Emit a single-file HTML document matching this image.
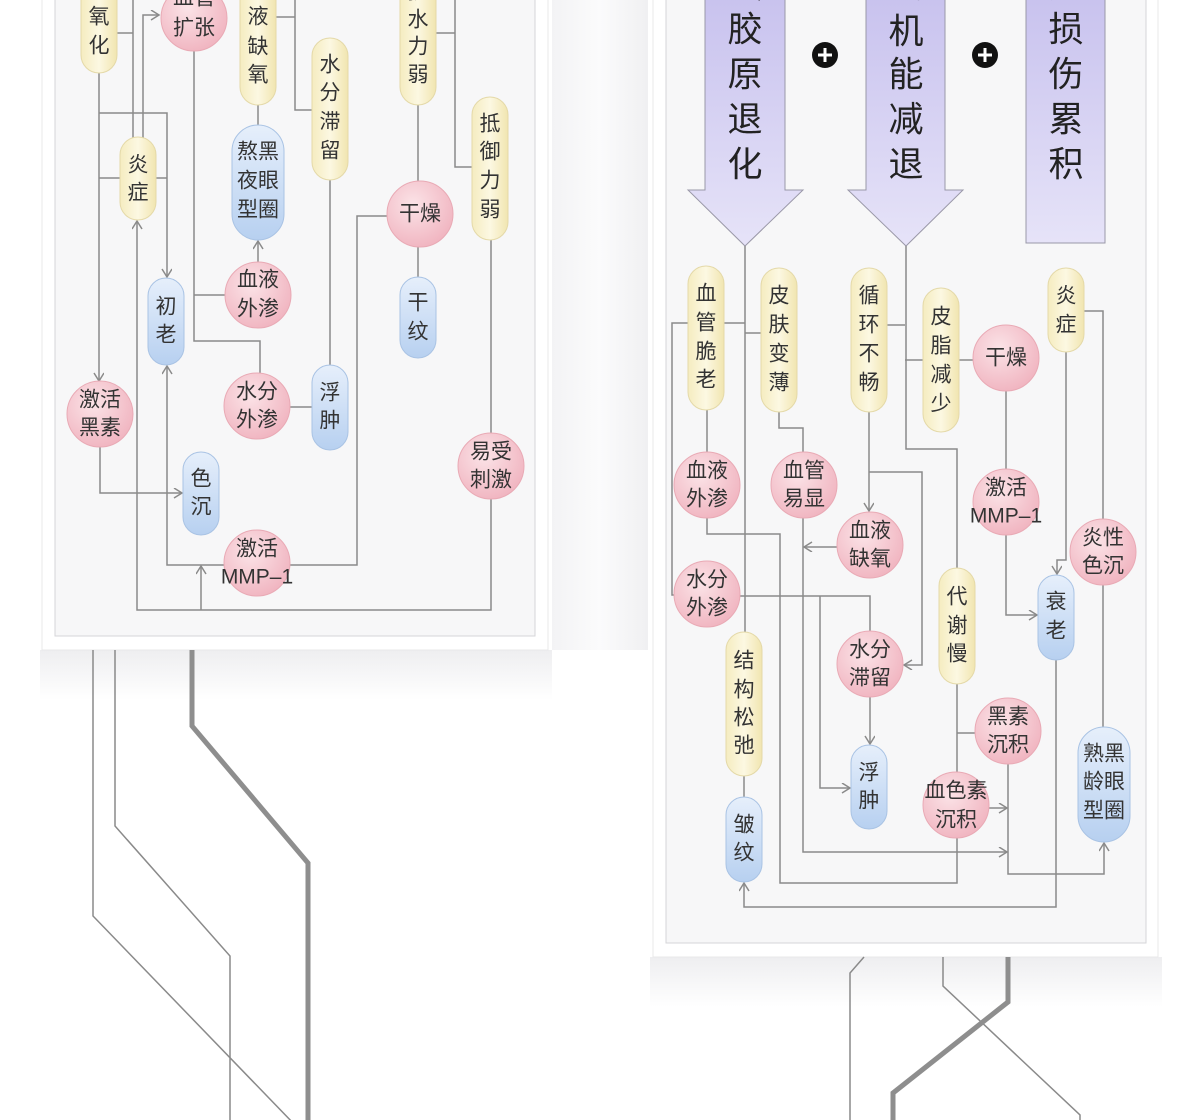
<!DOCTYPE html>
<html><head><meta charset="utf-8"><style>
html,body{margin:0;padding:0;background:#fff;}
svg{display:block;}
text{font-family:"Liberation Sans","Noto Sans CJK SC",sans-serif;font-size:21px;fill:#333;text-anchor:middle;dominant-baseline:central;}
.ln{stroke:#8a8a8a;stroke-width:1.5;fill:none;}
.big{font-size:35px;fill:#222;}
</style></head><body>
<svg width="1200" height="1120" viewBox="0 0 1200 1120" xmlns="http://www.w3.org/2000/svg">
<defs>
<radialGradient id="pk" cx="0.4" cy="0.35" r="0.7"><stop offset="0" stop-color="#fbe3e7"/><stop offset="1" stop-color="#f0b3bf"/></radialGradient>
<linearGradient id="yl" x1="0" y1="0" x2="1" y2="0"><stop offset="0" stop-color="#f5ecc0"/><stop offset="0.5" stop-color="#fcf8e2"/><stop offset="1" stop-color="#f1e5b0"/></linearGradient>
<linearGradient id="bl" x1="0" y1="0" x2="0" y2="1"><stop offset="0" stop-color="#e6effb"/><stop offset="1" stop-color="#b7d0f0"/></linearGradient>
<linearGradient id="pu" x1="0" y1="0" x2="0" y2="1"><stop offset="0" stop-color="#c8c2ee"/><stop offset="1" stop-color="#e6e3f8"/></linearGradient>
<linearGradient id="gap" x1="0" y1="0" x2="1" y2="0"><stop offset="0" stop-color="#f3f3f5"/><stop offset="0.5" stop-color="#fbfbfc"/><stop offset="1" stop-color="#f0f0f2"/></linearGradient>
<linearGradient id="sh" x1="0" y1="0" x2="0" y2="1"><stop offset="0" stop-color="#eeeef0"/><stop offset="1" stop-color="#ffffff"/></linearGradient>
<marker id="ar" markerWidth="12" markerHeight="12" refX="9" refY="5" orient="auto" markerUnits="userSpaceOnUse"><path d="M1,0 L9,5 L1,10" fill="none" stroke="#8a8a8a" stroke-width="1.5"/></marker>
</defs>

<rect x="552" y="0" width="96" height="650" fill="url(#gap)"/>
<rect x="40" y="650" width="512" height="50" fill="url(#sh)"/>
<rect x="650" y="957" width="512" height="50" fill="url(#sh)"/>
<rect x="42" y="-5" width="506" height="655" fill="#fff" stroke="#e8e8ea"/>
<rect x="55" y="-5" width="480" height="641" fill="#f7f7f8" stroke="#d6d6d8"/>
<rect x="653" y="-5" width="505" height="962" fill="#fff" stroke="#e8e8ea"/>
<rect x="666" y="-5" width="480" height="948" fill="#f7f7f8" stroke="#d6d6d8"/>

<polyline class="ln" points="93,650 93,916 295,1125" stroke="#777"/>
<polyline class="ln" points="115,650 115,826 230,956 230,1120" stroke="#777"/>
<polyline points="192,650 192,726 308,863 308,1120" fill="none" stroke="#8e8e8e" stroke-width="5"/>
<polyline class="ln" points="864,957 850,973 850,1120" stroke="#777"/>
<polyline class="ln" points="943,957 943,986 1080,1115 1080,1120" stroke="#777"/>
<polyline points="1008,957 1008,1002 893,1093 893,1120" fill="none" stroke="#8e8e8e" stroke-width="5"/>

<polyline class="ln" points="99,70 99,381" marker-end="url(#ar)"/>
<polyline class="ln" points="117,33 133,33"/>
<polyline class="ln" points="133,0 133,140"/>
<polyline class="ln" points="99,113 167,113 167,277" marker-end="url(#ar)"/>
<polyline class="ln" points="99,178 167,178"/>
<polyline class="ln" points="143,140 143,15 159,15" marker-end="url(#ar)"/>
<polyline class="ln" points="194,50 194,341 260,341 260,373"/>
<polyline class="ln" points="194,295 225,295"/>
<polyline class="ln" points="276,17 295,17"/>
<polyline class="ln" points="295,0 295,110 312,110"/>
<polyline class="ln" points="258,100 258,125"/>
<polyline class="ln" points="258,262 258,241" marker-end="url(#ar)"/>
<polyline class="ln" points="436,33 455,33"/>
<polyline class="ln" points="455,0 455,167 472,167"/>
<polyline class="ln" points="418,100 418,181"/>
<polyline class="ln" points="418,247 418,277"/>
<polyline class="ln" points="387,216 357,216 357,565 290,565"/>
<polyline class="ln" points="330,178 330,365"/>
<polyline class="ln" points="290,407 312,407"/>
<polyline class="ln" points="491,238 491,433"/>
<polyline class="ln" points="491,499 491,610 137,610 137,221" marker-end="url(#ar)"/>
<polyline class="ln" points="201,610 201,566" marker-end="url(#ar)"/>
<polyline class="ln" points="224,565 167,565 167,366" marker-end="url(#ar)"/>
<polyline class="ln" points="100,447 100,493 182,493" marker-end="url(#ar)"/>

<rect x="81" y="-20" width="36" height="93" rx="18" fill="url(#yl)" stroke="#e4d9a8"/>
<text x="99" y="17">氧</text><text x="99" y="46">化</text>
<circle cx="194" cy="18" r="33" fill="url(#pk)" stroke="#e9aab5"/>
<text x="194" y="-2">血管</text><text x="194" y="28">扩张</text>
<rect x="240" y="-20" width="36" height="125" rx="18" fill="url(#yl)" stroke="#e4d9a8"/>
<text x="258" y="17">液</text><text x="258" y="47">缺</text><text x="258" y="75">氧</text>
<rect x="312" y="38" width="36" height="142" rx="18" fill="url(#yl)" stroke="#e4d9a8"/>
<text x="330" y="65">水</text><text x="330" y="93">分</text><text x="330" y="122">滞</text><text x="330" y="151">留</text>
<rect x="400" y="-20" width="36" height="125" rx="18" fill="url(#yl)" stroke="#e4d9a8"/>
<text x="418" y="-8">抗</text><text x="418" y="20">水</text><text x="418" y="47">力</text><text x="418" y="75">弱</text>
<rect x="472" y="97" width="36" height="143" rx="18" fill="url(#yl)" stroke="#e4d9a8"/>
<text x="490" y="124">抵</text><text x="490" y="152">御</text><text x="490" y="181">力</text><text x="490" y="210">弱</text>
<rect x="120" y="137" width="36" height="83" rx="18" fill="url(#yl)" stroke="#e4d9a8"/>
<text x="138" y="165">炎</text><text x="138" y="193">症</text>
<rect x="232" y="125" width="52" height="115" rx="26" fill="url(#bl)" stroke="#a9c3e4"/>
<text x="258" y="152">熬黑</text><text x="258" y="181">夜眼</text><text x="258" y="210">型圈</text>
<circle cx="420" cy="214" r="33" fill="url(#pk)" stroke="#e9aab5"/><text x="420" y="214">干燥</text>
<circle cx="258" cy="295" r="33" fill="url(#pk)" stroke="#e9aab5"/>
<text x="258" y="280">血液</text><text x="258" y="309">外渗</text>
<rect x="148" y="278" width="36" height="87" rx="18" fill="url(#bl)" stroke="#a9c3e4"/>
<text x="166" y="307">初</text><text x="166" y="335">老</text>
<rect x="400" y="277" width="36" height="81" rx="18" fill="url(#bl)" stroke="#a9c3e4"/>
<text x="418" y="303">干</text><text x="418" y="332">纹</text>
<circle cx="100" cy="414" r="33" fill="url(#pk)" stroke="#e9aab5"/>
<text x="100" y="400">激活</text><text x="100" y="428">黑素</text>
<circle cx="257" cy="406" r="33" fill="url(#pk)" stroke="#e9aab5"/>
<text x="257" y="392">水分</text><text x="257" y="420">外渗</text>
<rect x="312" y="365" width="36" height="85" rx="18" fill="url(#bl)" stroke="#a9c3e4"/>
<text x="330" y="393">浮</text><text x="330" y="421">肿</text>
<circle cx="491" cy="466" r="33" fill="url(#pk)" stroke="#e9aab5"/>
<text x="491" y="452">易受</text><text x="491" y="480">刺激</text>
<rect x="183" y="452" width="36" height="83" rx="18" fill="url(#bl)" stroke="#a9c3e4"/>
<text x="201" y="479">色</text><text x="201" y="507">沉</text>
<circle cx="257" cy="563" r="33" fill="url(#pk)" stroke="#e9aab5"/>
<text x="257" y="549">激活</text><text x="257" y="577">MMP–1</text>

<polygon points="705,-5 785,-5 785,190 803,190 745,246 688,190 705,190" fill="url(#pu)" stroke="#9a98a8" stroke-width="1"/>
<text class="big" x="745" y="-14">蛋</text><text class="big" x="745" y="30">胶</text><text class="big" x="745" y="75">原</text><text class="big" x="745" y="120">退</text><text class="big" x="745" y="165">化</text>
<polygon points="866,-5 945,-5 945,190 963,190 906,246 848,190 866,190" fill="url(#pu)" stroke="#9a98a8" stroke-width="1"/>
<text class="big" x="906" y="-14">代</text><text class="big" x="906" y="32">机</text><text class="big" x="906" y="75">能</text><text class="big" x="906" y="120">减</text><text class="big" x="906" y="165">退</text>
<rect x="1026" y="-5" width="79" height="248" fill="url(#pu)" stroke="#9a98a8" stroke-width="1"/>
<text class="big" x="1066" y="-14">光</text><text class="big" x="1066" y="30">损</text><text class="big" x="1066" y="75">伤</text><text class="big" x="1066" y="120">累</text><text class="big" x="1066" y="165">积</text>
<circle cx="825" cy="55" r="13" fill="#111"/><path d="M818,55 H832 M825,48 V62" stroke="#fff" stroke-width="3"/>
<circle cx="985" cy="55" r="13" fill="#111"/><path d="M978,55 H992 M985,48 V62" stroke="#fff" stroke-width="3"/>

<polyline class="ln" points="745,246 745,632"/>
<polyline class="ln" points="724,323 745,323"/>
<polyline class="ln" points="745,333 762,333"/>
<polyline class="ln" points="688,323 672,323 672,595 676,595"/>
<polyline class="ln" points="744,776 744,797"/>
<polyline class="ln" points="707,408 707,452"/>
<polyline class="ln" points="707,518 707,534 780,534 780,883 957,883 957,838"/>
<polyline class="ln" points="779,410 779,428 803,428 803,452"/>
<polyline class="ln" points="803,518 803,852 1007,852" marker-end="url(#ar)"/>
<polyline class="ln" points="837,547 804,547" marker-end="url(#ar)"/>
<polyline class="ln" points="887,325 905,325"/>
<polyline class="ln" points="906,246 906,449 957,449 957,568"/>
<polyline class="ln" points="905,360 923,360"/>
<polyline class="ln" points="959,360 973,360"/>
<polyline class="ln" points="869,410 869,511" marker-end="url(#ar)"/>
<polyline class="ln" points="869,472 922,472 922,665 904,665" marker-end="url(#ar)"/>
<polyline class="ln" points="740,596 870,596 870,631"/>
<polyline class="ln" points="820,596 820,788 850,788" marker-end="url(#ar)"/>
<polyline class="ln" points="870,697 870,744" marker-end="url(#ar)"/>
<polyline class="ln" points="1006,391 1006,469"/>
<polyline class="ln" points="1006,535 1006,615 1037,615" marker-end="url(#ar)"/>
<polyline class="ln" points="1066,350 1066,560 1057,560 1057,574" marker-end="url(#ar)"/>
<polyline class="ln" points="1084,311 1103,311 1103,519"/>
<polyline class="ln" points="1103,585 1103,727"/>
<polyline class="ln" points="957,684 957,772"/>
<polyline class="ln" points="957,733 975,733"/>
<polyline class="ln" points="1056,660 1056,907 744,907 744,883" marker-end="url(#ar)"/>
<polyline class="ln" points="1008,764 1008,874 1104,874 1104,843" marker-end="url(#ar)"/>
<polyline class="ln" points="989,808 1007,808" marker-end="url(#ar)"/>

<rect x="688" y="266" width="36" height="144" rx="18" fill="url(#yl)" stroke="#e4d9a8"/>
<text x="706" y="294">血</text><text x="706" y="323">管</text><text x="706" y="352">脆</text><text x="706" y="380">老</text>
<rect x="761" y="268" width="36" height="144" rx="18" fill="url(#yl)" stroke="#e4d9a8"/>
<text x="779" y="296">皮</text><text x="779" y="325">肤</text><text x="779" y="354">变</text><text x="779" y="383">薄</text>
<rect x="851" y="268" width="36" height="144" rx="18" fill="url(#yl)" stroke="#e4d9a8"/>
<text x="869" y="296">循</text><text x="869" y="325">环</text><text x="869" y="354">不</text><text x="869" y="383">畅</text>
<rect x="923" y="288" width="36" height="144" rx="18" fill="url(#yl)" stroke="#e4d9a8"/>
<text x="941" y="317">皮</text><text x="941" y="346">脂</text><text x="941" y="375">减</text><text x="941" y="404">少</text>
<circle cx="1006" cy="358" r="33" fill="url(#pk)" stroke="#e9aab5"/><text x="1006" y="358">干燥</text>
<rect x="1048" y="268" width="36" height="84" rx="18" fill="url(#yl)" stroke="#e4d9a8"/>
<text x="1066" y="296">炎</text><text x="1066" y="325">症</text>
<circle cx="707" cy="485" r="33" fill="url(#pk)" stroke="#e9aab5"/><text x="707" y="471">血液</text><text x="707" y="499">外渗</text>
<circle cx="804" cy="485" r="33" fill="url(#pk)" stroke="#e9aab5"/><text x="804" y="471">血管</text><text x="804" y="499">易显</text>
<circle cx="870" cy="545" r="33" fill="url(#pk)" stroke="#e9aab5"/><text x="870" y="531">血液</text><text x="870" y="559">缺氧</text>
<circle cx="1006" cy="502" r="33" fill="url(#pk)" stroke="#e9aab5"/><text x="1006" y="488">激活</text><text x="1006" y="516">MMP–1</text>
<circle cx="1103" cy="552" r="33" fill="url(#pk)" stroke="#e9aab5"/><text x="1103" y="538">炎性</text><text x="1103" y="566">色沉</text>
<circle cx="707" cy="594" r="33" fill="url(#pk)" stroke="#e9aab5"/><text x="707" y="580">水分</text><text x="707" y="608">外渗</text>
<rect x="939" y="568" width="36" height="116" rx="18" fill="url(#yl)" stroke="#e4d9a8"/>
<text x="957" y="597">代</text><text x="957" y="626">谢</text><text x="957" y="654">慢</text>
<rect x="1038" y="575" width="36" height="85" rx="18" fill="url(#bl)" stroke="#a9c3e4"/>
<text x="1056" y="602">衰</text><text x="1056" y="631">老</text>
<circle cx="870" cy="664" r="33" fill="url(#pk)" stroke="#e9aab5"/><text x="870" y="650">水分</text><text x="870" y="678">滞留</text>
<rect x="726" y="632" width="36" height="144" rx="18" fill="url(#yl)" stroke="#e4d9a8"/>
<text x="744" y="661">结</text><text x="744" y="690">构</text><text x="744" y="718">松</text><text x="744" y="746">弛</text>
<circle cx="1008" cy="731" r="33" fill="url(#pk)" stroke="#e9aab5"/><text x="1008" y="717">黑素</text><text x="1008" y="745">沉积</text>
<rect x="1078" y="727" width="52" height="115" rx="26" fill="url(#bl)" stroke="#a9c3e4"/>
<text x="1104" y="754">熟黑</text><text x="1104" y="782">龄眼</text><text x="1104" y="811">型圈</text>
<rect x="851" y="745" width="36" height="84" rx="18" fill="url(#bl)" stroke="#a9c3e4"/>
<text x="869" y="773">浮</text><text x="869" y="801">肿</text>
<circle cx="956" cy="805" r="33" fill="url(#pk)" stroke="#e9aab5"/><text x="956" y="791">血色素</text><text x="956" y="820">沉积</text>
<rect x="726" y="797" width="36" height="85" rx="18" fill="url(#bl)" stroke="#a9c3e4"/>
<text x="744" y="825">皱</text><text x="744" y="853">纹</text>
</svg>
</body></html>
